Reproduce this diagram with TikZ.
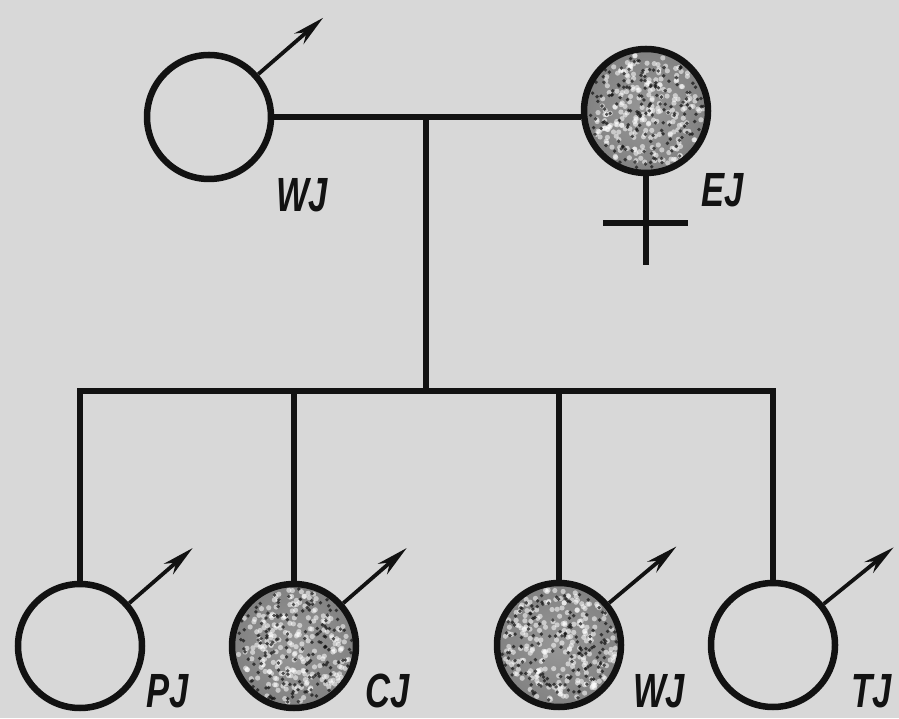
\documentclass[tikz,border=0pt]{standalone}
\usepackage{fontspec}
\setmainfont{Liberation Sans}
\usepackage{graphicx}
\usetikzlibrary{arrows.meta}
\definecolor{bg}{RGB}{216,216,216}
\definecolor{ink}{RGB}{18,18,18}
\pgfdeclareradialshading{stip}{\pgfpoint{0bp}{0bp}}{color(0bp)=(bg!70!black); color(24bp)=(bg!60!black); color(38bp)=(bg!38!black); color(46bp)=(ink); color(50bp)=(ink)}
\pgfmathsetseed{11}
\tikzset{
  person/.style={circle, draw=ink, line width=6.5pt, minimum size=124pt, inner sep=0pt},
  affected/.style={person, path picture={
      \shade[shading=stip] (path picture bounding box.center) circle (64pt);
      \foreach \i in {1,...,230}{
        \pgfmathsetmacro\ang{360*rnd}\pgfmathsetmacro\rad{57*sqrt(rnd)}
        \fill[white, opacity=0.55] ([shift={(\ang:\rad pt)}]path picture bounding box.center) circle (2.6pt);}
      \foreach \i in {1,...,160}{
        \pgfmathsetmacro\ang{360*rnd}\pgfmathsetmacro\rad{58*sqrt(rnd)}
        \fill[ink, opacity=0.7] ([shift={(\ang:\rad pt)}]path picture bounding box.center) circle (1.9pt);}
  }},
  link/.style={draw=ink, line width=5.5pt},
  sexarrow/.style={draw=ink, line width=3.8pt, -{Stealth[length=32pt,width=14pt,inset=10pt]}},
  lbl/.style={font=\fontsize{48}{48}\selectfont\bfseries\itshape, text=ink, inner sep=0pt}
}
\newcommand{\lb}[1]{\scalebox{0.72}[1]{#1}}
\begin{document}
\begin{tikzpicture}[x=1pt,y=1pt]
\fill[bg] (0,0) rectangle (899,718);
\useasboundingbox (0,0) rectangle (899,718);
% parents
\node[person] (f) at (209,601) {};
\node[affected] (m) at (646,607) {};
% children
\node[person] (c1) at (80,72) {};
\node[affected] (c2) at (294,72) {};
\node[affected] (c3) at (559,73) {};
\node[person] (c4) at (773,73) {};
% coordinates
\coordinate (mid) at (426,601);
\coordinate (sib) at (426,327);
\coordinate (crossb) at (647,453);
\coordinate (cl) at (603,495);
\coordinate (cr) at (688,495);
% marriage and descent
\draw[link] (f.east) -- (m.west |- f.east);
\draw[link] (mid) -- (sib);
\draw[link, line join=miter] (c1.north) -- (c1.north |- sib) -- (c4.north |- sib) -- (c4.north);
\draw[link] (c2.north |- sib) -- (c2.north);
\draw[link] (c3.north |- sib) -- (c3.north);
% female sign
\draw[link] (m.south) -- (m.south |- crossb);
\draw[link] (cl) -- (cr);
% male arrows
\draw[sexarrow] (f.41) -- ++(41:86);
\draw[sexarrow] (c1.41) -- ++(41:84);
\draw[sexarrow] (c2.41) -- ++(41:84);
\draw[sexarrow] (c3.40) -- ++(40:88);
\draw[sexarrow] (c4.39) -- ++(39:90);
% labels
\node[lbl] (lf) at (302,523) {\lb{WJ}};
\node[lbl] (lm) at (723,528) {\lb{EJ}};
\node[lbl] (l1) at (168,27) {\lb{PJ}};
\node[lbl] (l2) at (388,27) {\lb{CJ}};
\node[lbl] (l3) at (659,27) {\lb{WJ}};
\node[lbl] (l4) at (872,27) {\lb{TJ}};
\end{tikzpicture}
\end{document}
